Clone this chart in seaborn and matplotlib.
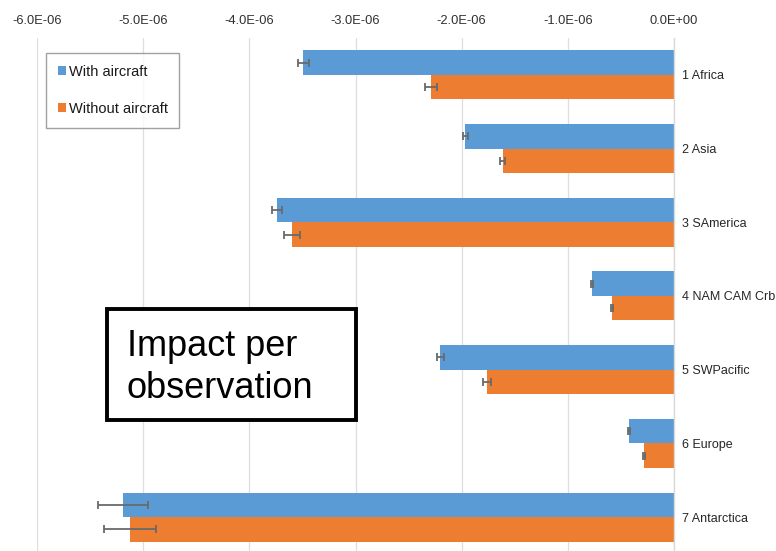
import numpy as np
import pandas as pd
import matplotlib
matplotlib.use("Agg")
import matplotlib.pyplot as plt
from matplotlib.patches import Rectangle
from matplotlib import font_manager
import seaborn as sns

# Regions and observation impact values (per observation)
regions = ["1 Africa", "2 Asia", "3 SAmerica", "4 NAM CAM Crb",
           "5 SWPacific", "6 Europe", "7 Antarctica"]
series_names = ["With aircraft", "Without aircraft"]
with_aircraft = [-3.49e-6, -1.965e-6, -3.74e-6, -0.77e-6, -2.20e-6, -0.42e-6, -5.19e-6]
without_aircraft = [-2.29e-6, -1.615e-6, -3.60e-6, -0.58e-6, -1.76e-6, -0.285e-6, -5.12e-6]
with_err = [0.05e-6, 0.02e-6, 0.05e-6, 0.01e-6, 0.035e-6, 0.01e-6, 0.24e-6]
without_err = [0.055e-6, 0.02e-6, 0.075e-6, 0.01e-6, 0.035e-6, 0.01e-6, 0.245e-6]
x_ticks = [-6e-6, -5e-6, -4e-6, -3e-6, -2e-6, -1e-6, 0.0]

colors = ["#5B9BD5", "#ED7D31"]

sns.set_theme(style="white")
available = {f.name for f in font_manager.fontManager.ttflist}
if "Liberation Sans Narrow" in available:
    label_family = ["Liberation Sans Narrow", "DejaVu Sans"]
    tick_size, cat_size, legend_size = 11, 11, 12.5
else:
    label_family = ["Liberation Sans", "DejaVu Sans"]
    tick_size, cat_size, legend_size = 9.3, 9.0, 10.5
plt.rcParams["font.family"] = label_family

df = pd.DataFrame({
    "region": regions * 2,
    "value": with_aircraft + without_aircraft,
    "series": [series_names[0]] * len(regions) + [series_names[1]] * len(regions),
})

fig = plt.figure(figsize=(7.76, 5.51), dpi=100)
ax = fig.add_axes([37 / 776, 0.0, (674 - 37) / 776, (551 - 38) / 551])

sns.barplot(data=df, x="value", y="region", hue="series", orient="h",
            palette=colors, width=0.665, errorbar=None, ax=ax,
            linewidth=0, saturation=1)

# error bars at the end of each bar
for container, errs in zip(ax.containers, [with_err, without_err]):
    for patch, e in zip(container.patches, errs):
        end = patch.get_x() + patch.get_width()
        yc = patch.get_y() + patch.get_height() / 2
        ax.errorbar(end, yc, xerr=e, fmt="none", ecolor="#6a6a6a",
                    elinewidth=1.3, capsize=2.8, capthick=1.3, zorder=5)

ax.set_xlim(-6e-6, 0)
ax.set_ylim(6.46, -0.5)
ax.set_xticks(x_ticks)
ax.set_xticklabels(["{:.1E}".format(v) for v in x_ticks])
ax.xaxis.tick_top()
ax.tick_params(axis="x", length=0, pad=8, labelsize=tick_size, labelcolor="#303030")
ax.yaxis.tick_right()
ax.tick_params(axis="y", length=0, pad=6, labelsize=cat_size, labelcolor="#262626")
ax.set_xlabel("")
ax.set_ylabel("")

ax.grid(axis="x", color="#dedede", linewidth=0.9)
ax.set_axisbelow(True)
for side in ["top", "left", "bottom"]:
    ax.spines[side].set_visible(False)
ax.spines["right"].set_color("#d9d9d9")
ax.spines["right"].set_linewidth(1.0)

handles, labels = ax.get_legend_handles_labels()
if ax.legend_:
    ax.legend_.remove()
leg = fig.legend(handles, labels, loc="upper left",
                 bbox_to_anchor=(46 / 776, 1 - 53 / 551),
                 bbox_transform=fig.transFigure,
                 fontsize=legend_size, frameon=True, fancybox=False,
                 handlelength=0.6, handleheight=0.6, handletextpad=0.15,
                 labelspacing=1.6, borderpad=0.8, borderaxespad=0)
leg.get_frame().set_edgecolor("#8a8a8a")
leg.get_frame().set_linewidth(1.0)
for t in leg.get_texts():
    t.set_color("#1a1a1a")

# annotation box
fig.patches.append(Rectangle((107 / 776, 1 - 420 / 551), (356 - 107) / 776,
                             (420 - 309) / 551, transform=fig.transFigure,
                             fill=True, facecolor="white", edgecolor="black",
                             linewidth=2.8, zorder=10))
fig.text(127 / 776, 1 - 356 / 551, "Impact per", fontsize=26,
         family=["Liberation Sans", "DejaVu Sans"], va="baseline",
         ha="left", color="black", zorder=11)
fig.text(127 / 776, 1 - 398 / 551, "observation", fontsize=26,
         family=["Liberation Sans", "DejaVu Sans"], va="baseline",
         ha="left", color="black", zorder=11)

fig.savefig("out.png", dpi=100)
